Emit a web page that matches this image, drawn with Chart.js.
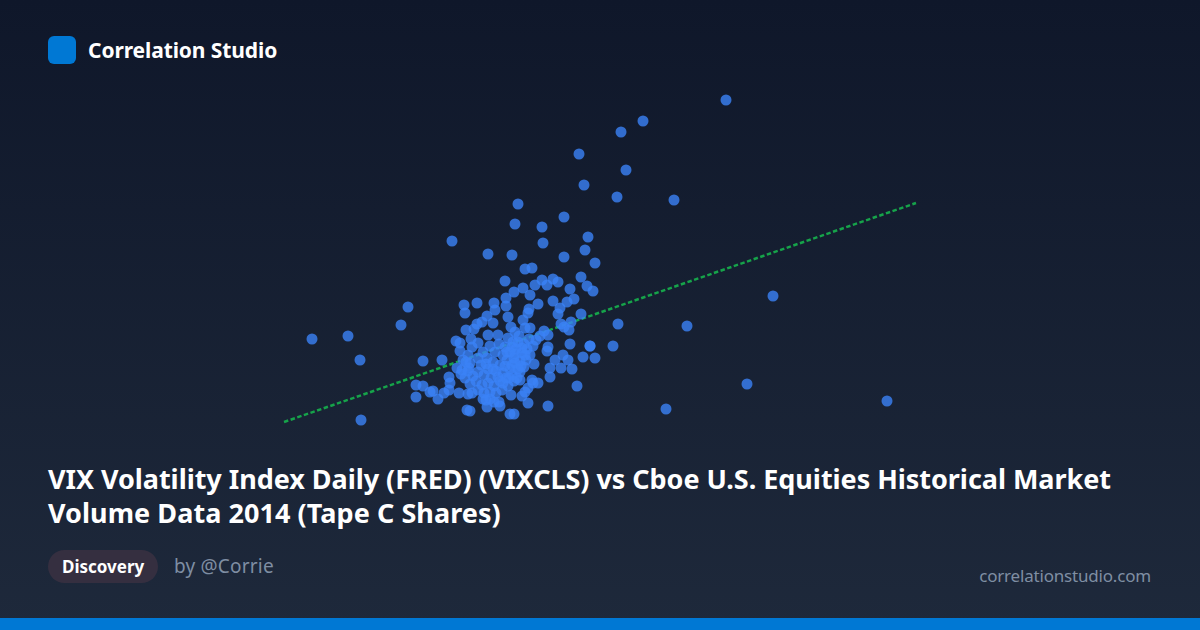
<!DOCTYPE html>
<html><head><meta charset="utf-8">
<style>
html,body{margin:0;padding:0}
body{width:1200px;height:630px;overflow:hidden;position:relative;background:linear-gradient(180deg,#0f172a 0%,#1e293b 100%);font-family:"Noto Sans",sans-serif;color:#fff}
#logo{position:absolute;left:48px;top:36px;width:28px;height:28px;border-radius:6px;background:#0078d4}
#brand{position:absolute;left:88px;top:36px;line-height:28px;font-size:21px;letter-spacing:-0.1px;font-weight:700;white-space:nowrap}
#title{position:absolute;left:48px;top:462px;width:1104px;font-size:27px;letter-spacing:-0.04px;line-height:34px;font-weight:700;white-space:nowrap}
#title span{letter-spacing:0.06px}
#pill{position:absolute;left:48px;top:550px;width:110px;box-sizing:border-box;height:33px;line-height:33px;padding-left:14px;border-radius:16.5px;background:#352f40;font-size:17px;font-weight:700;white-space:nowrap}
#by{position:absolute;left:174px;top:550px;line-height:32px;font-size:19px;letter-spacing:0.2px;color:#7f8ea3;white-space:nowrap}
#site{position:absolute;right:49px;top:562px;line-height:28px;font-size:17px;letter-spacing:-0.19px;color:#7f8ea3;white-space:nowrap}
#bar{position:absolute;left:0;right:0;bottom:0;height:12px;background:#0078d4}
#wrap{position:absolute;left:200px;top:80px;width:800px;height:360px}
</style></head><body>
<div id="logo"></div><div id="brand">Correlation Studio</div>
<div id="wrap"><canvas id="c" width="800" height="360"></canvas></div>
<div id="title">VIX Volatility Index Daily (FRED) (VIXCLS) vs Cboe U.S. Equities Historical Market<br><span>Volume Data 2014 (Tape C Shares)</span></div>
<div id="pill">Discovery</div><div id="by">by @Corrie</div><div id="site">correlationstudio.com</div><div id="bar"></div>
<script src="https://cdn.jsdelivr.net/npm/chart.js@4"></script>
<script>
const vix=[18.52,16.86,16.42,15.58,16.52,15.68,16.34,17.48,14.36,15.28,14.30,14.84,15.76,14.86,13.04,13.76,14.24,15.28,15.70,15.90,19.46,16.36,17.74,16.26,15.90,15.66,15.54,18.94,17.32,21.74,11.22,10.24,10.96,11.20,12.16,12.02,14.96,
14.50,14.64,15.62,14.10,14.84,15.06,15.16,14.94,14.70,14.46,14.28,14.60,15.40,15.74,15.86,15.48,15.34,15.06,14.12,14.76,15.20,15.16,14.12,13.88,13.54,13.28,13.30,13.90,14.58,14.56,13.74,14.16,14.46,15.62,15.42,15.22,15.28,15.38,13.64,13.54,13.86,13.32,13.48,14.22,14.50,14.60,14.88,14.96,14.30,13.76,13.96,13.12,13.20,13.42,15.40,15.80,15.80,14.96,14.94,13.20,12.84,12.46,15.26,15.10,15.36,15.00,15.22,15.44,15.00,14.56,14.76,14.64,14.66,14.56,14.50,14.44,14.22,14.00,13.98,13.74,13.40,13.34,14.20,14.28,12.32,12.32,12.46,12.60,12.66,12.76,12.88,12.98,13.00,12.98,13.18,13.36,13.66,13.26,13.24,13.38,
14.16,14.26,14.38,14.48,14.58,14.32,14.20,14.44,14.54,14.66,14.10,14.28,14.40,14.14,14.52,14.24,14.36,14.06,14.72,14.80,
13.66,13.80,13.90,13.98,13.74,13.86,14.00,13.62,13.76,13.92,14.06,13.56,13.68,13.82,
13.36,13.46,13.56,13.40,13.52,13.64,13.76,13.88,14.00,14.12,14.24,14.34,14.16,14.04,13.92,13.80,13.68,13.56,13.44,13.30,13.22,13.80,13.88,13.72,14.40,14.48,
13.32,13.36,13.44,13.56,13.40,13.14,14.60,14.68,14.40,
14.24,14.36,14.14,14.44,14.30,14.50,14.20,14.10,14.30,14.42,14.28,14.18,13.96,14.06,13.86,13.72];
const tapeC=[4.20,3.99,3.88,3.66,3.50,3.35,3.23,3.20,3.16,3.03,2.96,2.93,2.83,2.77,2.79,2.66,2.65,2.63,2.70,2.57,2.24,1.96,1.94,1.74,1.62,1.63,1.34,1.36,1.11,1.19,1.00,1.81,1.84,1.60,2.13,1.95,1.14,
2.51,2.52,2.43,2.39,2.40,2.41,2.38,2.35,2.35,2.32,2.28,2.25,2.31,2.34,2.29,2.21,2.18,2.19,2.22,2.16,2.12,2.06,2.14,2.17,2.17,2.15,2.07,2.10,2.11,2.07,2.04,2.03,2.00,2.06,1.98,1.96,1.93,1.90,1.98,1.96,1.97,1.90,1.91,1.93,1.92,1.92,1.89,1.85,1.88,1.85,1.85,1.79,1.77,1.81,1.76,1.74,1.74,1.73,1.69,1.69,1.60,1.59,1.65,1.60,1.60,1.52,1.52,1.51,1.43,1.17,1.37,1.40,1.37,1.32,1.28,1.24,1.25,1.14,1.18,1.13,1.09,1.10,1.06,1.06,1.23,1.35,1.34,1.28,1.29,1.21,1.27,1.43,1.37,1.30,1.27,1.26,1.21,1.60,1.50,1.52,
1.82,1.78,1.84,1.76,1.81,1.71,1.68,1.67,1.71,1.74,1.73,1.62,1.59,1.60,1.60,1.55,1.51,1.65,1.80,1.84,
1.68,1.74,1.68,1.76,1.62,1.58,1.55,1.55,1.51,1.49,1.47,1.62,1.45,1.42,
1.49,1.44,1.48,1.36,1.39,1.35,1.37,1.34,1.39,1.42,1.45,1.42,1.34,1.30,1.27,1.28,1.27,1.30,1.27,1.42,1.46,1.21,1.18,1.20,1.48,1.53,
1.58,1.65,1.73,1.77,1.57,1.52,1.65,1.56,1.40,
1.73,1.78,1.68,1.72,1.66,1.65,1.51,1.54,1.57,1.54,1.39,1.42,1.43,1.37,1.51,1.56];
const trendX=[9.68,22.32];
const trendY=[0.98,3.17];
const points=vix.map((x,i)=>({x,y:tapeC[i]}));
const trend=trendX.map((x,i)=>({x,y:trendY[i]}));
new Chart(document.getElementById('c'),{type:'scatter',data:{datasets:[
{label:'Days',data:points,order:1,pointRadius:5.5,pointHoverRadius:5.5,borderWidth:0,pointBorderWidth:0,backgroundColor:'rgba(59,130,246,0.8)'},
{label:'Trend',data:trend,order:2,showLine:true,pointRadius:0,borderColor:'#16a34a',borderWidth:2.5,borderDash:[4.5,2.5]}
]},options:{responsive:false,animation:false,devicePixelRatio:1,layout:{padding:0,autoPadding:false},plugins:{legend:{display:false},tooltip:{enabled:false}},
scales:{x:{type:'linear',display:false,min:8,max:24},y:{type:'linear',display:false,min:0.8,max:4.4}}}});
</script>
</body></html>
